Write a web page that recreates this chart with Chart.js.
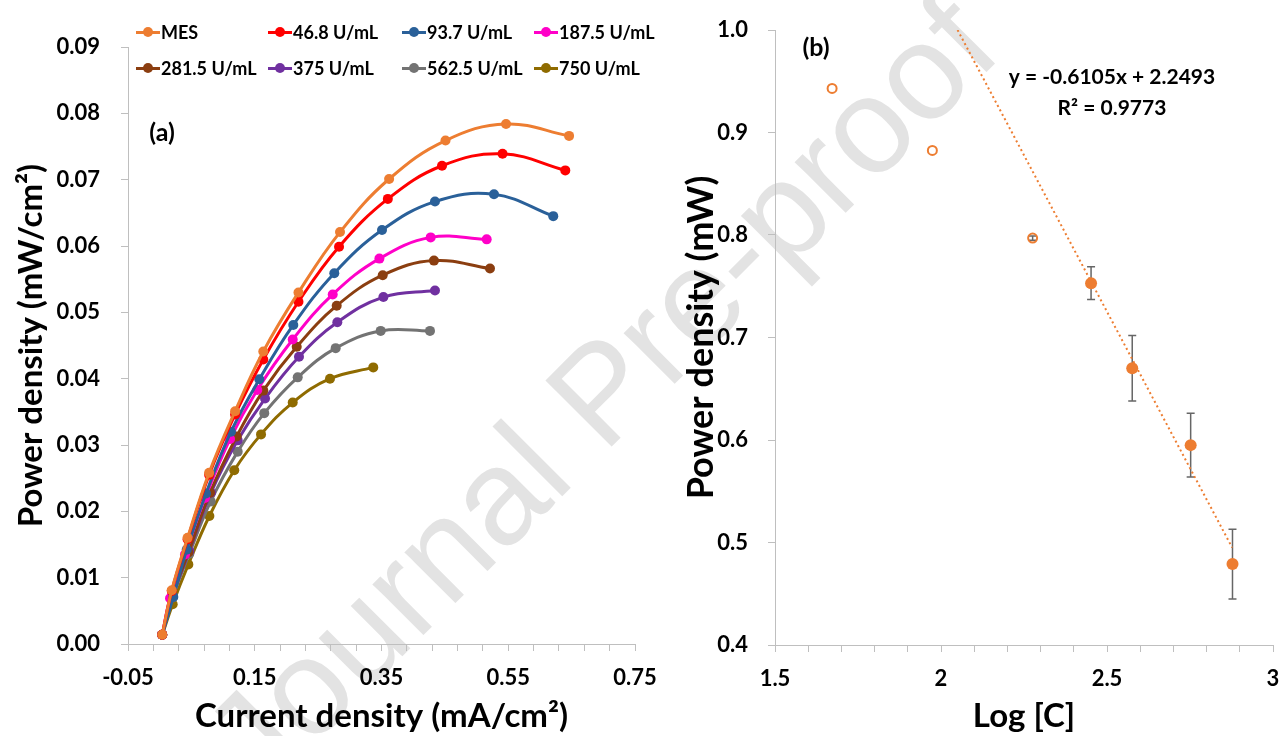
<!DOCTYPE html>
<html><head><meta charset="utf-8">
<script src="https://cdn.jsdelivr.net/npm/chart.js@4"></script>
<style>
html,body{margin:0;padding:0;background:#fff;}
#wrap{position:relative;width:1283px;height:736px;overflow:hidden;}
#wm{position:absolute;left:600px;top:392px;transform:translate(-50%,-50%) rotate(-45deg);font:136px "Liberation Sans",Arial,sans-serif;color:#e3e3e3;white-space:nowrap;z-index:0;}
canvas{position:absolute;top:0;z-index:1;}
#ca{left:0;}
#cb{left:660px;}
.lg{position:absolute;z-index:2;height:20px;font:bold 18px Lato,sans-serif;color:#000;display:flex;align-items:center;white-space:nowrap;}
.lg .mk{position:relative;width:24px;height:10px;margin-right:1px;flex:none;}
.lg .mk .ln{position:absolute;left:0;right:0;top:3.5px;height:3px;}
.lg .mk .dt{position:absolute;left:7px;top:0;width:10px;height:10px;border-radius:50%;}
</style>
</head><body>
<div id="wrap">
  <div id="wm">Journal Pre-proof</div>
  <canvas id="ca" width="660" height="736"></canvas>
  <canvas id="cb" width="623" height="736"></canvas>
</div>
<script>
// ---------- Panel (a) data ----------
const seriesNames  = ['MES','46.8 U/mL','93.7 U/mL','187.5 U/mL','281.5 U/mL','375 U/mL','562.5 U/mL','750 U/mL'];
const seriesColors = ['#ED7D31','#FF0000','#2A6099','#FF00C8','#8B3E10','#7030A0','#737373','#8F6B00'];

const mesX   = [0.004,0.019,0.044,0.078,0.119,0.1635,0.219,0.2845,0.362,0.451,0.5465,0.646];
const mesY   = [0.0014,0.0081,0.0160,0.0258,0.0351,0.0441,0.0530,0.0621,0.0701,0.0759,0.0784,0.0766];
const u468X  = [0.004,0.019,0.044,0.078,0.119,0.1635,0.219,0.283,0.360,0.4455,0.541,0.640];
const u468Y  = [0.0014,0.0080,0.0158,0.0255,0.0346,0.0429,0.0516,0.0599,0.0671,0.0721,0.0739,0.0714];
const u937X  = [0.004,0.0215,0.0426,0.0731,0.1125,0.1572,0.2108,0.2755,0.3508,0.4344,0.5275,0.621];
const u937Y  = [0.0014,0.0071,0.0142,0.0227,0.0320,0.0399,0.0481,0.0559,0.0624,0.0667,0.0678,0.0645];
const u1875X = [0.004,0.0163,0.0399,0.0715,0.111,0.154,0.2099,0.273,0.3467,0.4276,0.516];
const u1875Y = [0.0014,0.0069,0.0135,0.0220,0.0309,0.0383,0.0459,0.0527,0.0581,0.0613,0.0610];
const u2815X = [0.004,0.019,0.0452,0.0794,0.1215,0.1635,0.2162,0.2793,0.3519,0.4328,0.5212];
const u2815Y = [0.0014,0.0071,0.0138,0.0228,0.0313,0.0382,0.0448,0.0510,0.0556,0.0578,0.0566];
const u375X  = [0.004,0.020,0.0467,0.081,0.1231,0.1662,0.2198,0.2803,0.353,0.4344];
const u375Y  = [0.0014,0.0071,0.0140,0.0228,0.0307,0.0370,0.0433,0.0485,0.0523,0.0533];
const u5625X = [0.004,0.0205,0.0467,0.0805,0.1231,0.165,0.2178,0.2777,0.3487,0.4265];
const u5625Y = [0.0014,0.0070,0.0136,0.0215,0.0290,0.0348,0.0402,0.0446,0.0472,0.0472];
const u750X  = [0.0041,0.0205,0.0452,0.0784,0.1177,0.1599,0.2099,0.2687,0.337];
const u750Y  = [0.0014,0.0060,0.0120,0.0193,0.0262,0.0316,0.0364,0.0400,0.0417];

const xTickLabelsA = ['-0.05','0.15','0.35','0.55','0.75'];

// ---------- Panel (b) data ----------
const logOpen    = [1.672, 1.974, 2.276];
const powOpen    = [0.943, 0.8825, 0.797];
const errOpen    = [0, 0, 0.002];
const logFilled  = [2.452, 2.576, 2.752, 2.878];
const powFilled  = [0.753, 0.670, 0.595, 0.479];
const errFilled  = [0.016, 0.032, 0.031, 0.034];
const trendX     = [2.05, 2.877];
const trendY     = [1.0, 0.495];
const xTickLabelsB = ['1.5','2','2.5','3'];

const FONT = 'Lato, "Open Sans", sans-serif';
const AXIS_GRAY = '#BFBFBF';

const pairs = (xs, ys) => xs.map((x, i) => ({x, y: ys[i]}));
const allX = [mesX,u468X,u937X,u1875X,u2815X,u375X,u5625X,u750X];
const allY = [mesY,u468Y,u937Y,u1875Y,u2815Y,u375Y,u5625Y,u750Y];

// Legend (HTML) built from names and colours
const legCols = [136, 268, 402, 534], legRows = [22, 58];
seriesNames.forEach((n, i) => {
  const d = document.createElement('div');
  d.className = 'lg';
  d.style.left = legCols[i % 4] + 'px';
  d.style.top = legRows[Math.floor(i / 4)] + 'px';
  d.innerHTML = '<span class="mk"><span class="ln" style="background:' + seriesColors[i] + '"></span><span class="dt" style="background:' + seriesColors[i] + '"></span></span>' + n;
  document.getElementById('wrap').appendChild(d);
});

const textPlugin = {
  id: 'panelText',
  afterDraw(chart, args, opts) {
    const ctx = chart.ctx;
    ctx.save();
    ctx.fillStyle = '#000';
    ctx.textAlign = 'center';
    ctx.textBaseline = 'middle';
    (opts.items || []).forEach(it => {
      ctx.font = 'bold ' + it.size + 'px ' + FONT;
      ctx.fillText(it.text, it.x, it.y);
    });
    ctx.restore();
  }
};

const errorBars = {
  id: 'errorBars',
  beforeDatasetsDraw(chart) {
    const {ctx, scales: {x, y}} = chart;
    chart.data.datasets.forEach(ds => {
      if (!ds.errors) return;
      ds.data.forEach((p, j) => {
        const e = ds.errors[j];
        if (!e) return;
        const px = x.getPixelForValue(p.x);
        const yt = y.getPixelForValue(p.y + e), yb = y.getPixelForValue(p.y - e);
        ctx.save();
        ctx.strokeStyle = '#666666';
        ctx.lineWidth = 1.5;
        ctx.beginPath();
        ctx.moveTo(px, yt); ctx.lineTo(px, yb);
        ctx.moveTo(px - 4, yt); ctx.lineTo(px + 4, yt);
        ctx.moveTo(px - 4, yb); ctx.lineTo(px + 4, yb);
        ctx.stroke();
        ctx.restore();
      });
    });
  }
};

const tickFont = {family: FONT, weight: 'bold', size: 22};
const titleFont = {family: FONT, weight: 'bold', size: 33};
const noPad = s => { s.paddingLeft = 0; s.paddingRight = 0; s.paddingTop = 0; s.paddingBottom = 0; };

// ---------- Chart (a) ----------
new Chart(document.getElementById('ca'), {
  type: 'line',
  data: {
    datasets: seriesNames.map((n, i) => ({
      label: n,
      data: pairs(allX[i], allY[i]),
      borderColor: seriesColors[i],
      backgroundColor: seriesColors[i],
      pointBackgroundColor: seriesColors[i],
      pointBorderColor: seriesColors[i],
      borderWidth: 3,
      pointRadius: 5,
      pointBorderWidth: 0,
      tension: 0.4,
      fill: false,
      order: i
    }))
  },
  options: {
    responsive: false,
    animation: false,
    layout: {padding: {left: 0, right: 25, top: 47, bottom: 0}},
    plugins: {
      legend: {display: false},
      tooltip: {enabled: false},
      panelText: {items: [{text: '(a)', x: 162, y: 133, size: 25}]}
    },
    scales: {
      x: {
        type: 'linear', min: -0.05, max: 0.75,
        afterFit(s) { s.height = 736 - 644; noPad(s); },
        ticks: {
          stepSize: 0.04, autoSkip: false, maxRotation: 0, padding: 14,
          color: '#000', font: tickFont,
          callback: (v, i) => (i % 5 === 0 ? xTickLabelsA[i / 5] : '')
        },
        grid: {drawOnChartArea: false, drawTicks: true, tickLength: 7, color: AXIS_GRAY, tickColor: AXIS_GRAY},
        border: {display: true, color: AXIS_GRAY, width: 1},
        title: {display: true, text: 'Current density (mA/cm²)', color: '#000', font: titleFont, padding: {top: 0, bottom: 0}}
      },
      y: {
        type: 'linear', min: 0, max: 0.09,
        afterFit(s) { s.width = 128; noPad(s); },
        ticks: {stepSize: 0.01, padding: 21, color: '#000', font: tickFont, callback: v => v.toFixed(2)},
        grid: {drawOnChartArea: false, drawTicks: true, tickLength: 7, color: AXIS_GRAY, tickColor: AXIS_GRAY},
        border: {display: true, color: AXIS_GRAY, width: 1},
        title: {display: true, text: 'Power density (mW/cm²)', color: '#000', font: titleFont, padding: {top: 12, bottom: 0}}
      }
    }
  },
  plugins: [textPlugin]
});

// ---------- Chart (b) ----------
const ORANGE = '#ED7D31';
new Chart(document.getElementById('cb'), {
  type: 'scatter',
  data: {
    datasets: [
      {
        label: 'open', data: pairs(logOpen, powOpen), errors: errOpen,
        pointStyle: 'circle', pointRadius: 4.5, pointBorderWidth: 2,
        pointBorderColor: ORANGE, pointBackgroundColor: 'rgba(0,0,0,0)', order: 1
      },
      {
        label: 'filled', data: pairs(logFilled, powFilled), errors: errFilled,
        pointStyle: 'circle', pointRadius: 6, pointBorderWidth: 0,
        pointBorderColor: ORANGE, pointBackgroundColor: ORANGE, order: 1
      },
      {
        label: 'trend', data: pairs(trendX, trendY), showLine: true,
        borderColor: ORANGE, borderWidth: 2, borderDash: [2, 3], pointRadius: 0, order: 3
      }
    ]
  },
  options: {
    responsive: false,
    animation: false,
    layout: {padding: {left: 0, right: 10, top: 30, bottom: 0}},
    plugins: {
      legend: {display: false},
      tooltip: {enabled: false},
      panelText: {items: [
        {text: '(b)', x: 816 - 660, y: 48, size: 25},
        {text: 'y = -0.6105x + 2.2493', x: 1112 - 660, y: 77, size: 21},
        {text: 'R² = 0.9773', x: 1112 - 660, y: 108, size: 21}
      ]}
    },
    scales: {
      x: {
        type: 'linear', min: 1.5, max: 3,
        afterFit(s) { s.height = 736 - 645; noPad(s); },
        ticks: {
          stepSize: 0.1, autoSkip: false, maxRotation: 0, padding: 14,
          color: '#000', font: tickFont,
          callback: (v, i) => (i % 5 === 0 ? xTickLabelsB[i / 5] : '')
        },
        grid: {drawOnChartArea: false, drawTicks: true, tickLength: 7, color: AXIS_GRAY, tickColor: AXIS_GRAY},
        border: {display: true, color: AXIS_GRAY, width: 1},
        title: {display: true, text: 'Log [C]', color: '#000', font: titleFont, padding: {top: 0, bottom: 0}}
      },
      y: {
        type: 'linear', min: 0.4, max: 1.0,
        afterFit(s) { s.width = 115; noPad(s); },
        ticks: {stepSize: 0.1, padding: 20, color: '#000', font: tickFont, callback: v => v.toFixed(1)},
        grid: {drawOnChartArea: false, drawTicks: true, tickLength: 7, color: AXIS_GRAY, tickColor: AXIS_GRAY},
        border: {display: true, color: AXIS_GRAY, width: 1},
        title: {display: true, text: 'Power density (mW)', color: '#000', font: {family: FONT, weight: 'bold', size: 36}, padding: {top: 20, bottom: 0}}
      }
    }
  },
  plugins: [textPlugin, errorBars]
});
</script>
</body></html>
